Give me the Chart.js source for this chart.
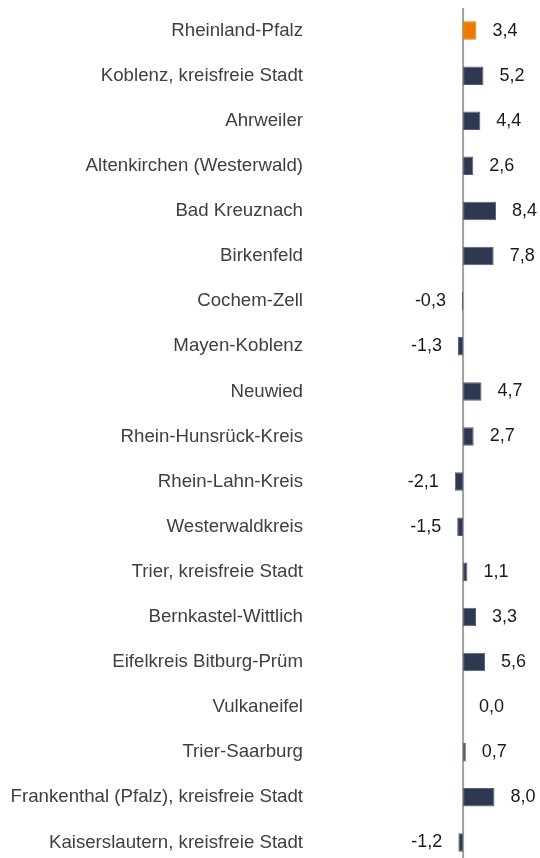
<!DOCTYPE html>
<html>
<head>
<meta charset="utf-8">
<script src="https://cdn.jsdelivr.net/npm/chart.js@4"></script>
<style>
  html, body { margin: 0; padding: 0; background: #fff; overflow: hidden; }
  #box { width: 540px; height: 865px; }
</style>
</head>
<body>
<div id="box"><canvas id="grafico"></canvas></div>
<script>
const kreise = [
  "Rheinland-Pfalz",
  "Koblenz, kreisfreie Stadt",
  "Ahrweiler",
  "Altenkirchen (Westerwald)",
  "Bad Kreuznach",
  "Birkenfeld",
  "Cochem-Zell",
  "Mayen-Koblenz",
  "Neuwied",
  "Rhein-Hunsrück-Kreis",
  "Rhein-Lahn-Kreis",
  "Westerwaldkreis",
  "Trier, kreisfreie Stadt",
  "Bernkastel-Wittlich",
  "Eifelkreis Bitburg-Prüm",
  "Vulkaneifel",
  "Trier-Saarburg",
  "Frankenthal (Pfalz), kreisfreie Stadt",
  "Kaiserslautern, kreisfreie Stadt"
];
const veraenderung = [3.4, 5.2, 4.4, 2.6, 8.4, 7.8, -0.3, -1.3, 4.7, 2.7, -2.1, -1.5, 1.1, 3.3, 5.6, 0.0, 0.7, 8.0, -1.2];

const farbeLand = "#e97b00";
const farbeKreis = "#2e3850";

const fmt = v => v.toFixed(1).replace(".", ",");

// Nulllinie
const nullLinie = {
  id: "nullLinie",
  beforeDatasetsDraw(chart) {
    const ctx = chart.ctx;
    const x = chart.scales.x.getPixelForValue(0);
    ctx.save();
    ctx.strokeStyle = "#a0a0a0";
    ctx.lineWidth = 2;
    ctx.beginPath();
    ctx.moveTo(x, chart.chartArea.top);
    ctx.lineTo(x, chart.height);
    ctx.stroke();
    ctx.restore();
  }
};

// Werte neben die Balken schreiben
const wertePlugin = {
  id: "werte",
  afterDatasetsDraw(chart) {
    const ctx = chart.ctx;
    const meta = chart.getDatasetMeta(0);
    ctx.save();
    ctx.font = "18px 'Liberation Sans', Arial, sans-serif";
    ctx.fillStyle = "#1a1a1a";
    ctx.textBaseline = "middle";
    meta.data.forEach((bar, i) => {
      const v = veraenderung[i];
      if (v < 0) {
        ctx.textAlign = "right";
        ctx.fillText(fmt(v), bar.x - 16, bar.y);
      } else {
        ctx.textAlign = "left";
        ctx.fillText(fmt(v), bar.x + 16, bar.y);
      }
    });
    ctx.restore();
  }
};

new Chart(document.getElementById("grafico"), {
  type: "bar",
  data: {
    labels: kreise,
    datasets: [{
      data: veraenderung,
      backgroundColor: kreise.map((k, i) => i === 0 ? farbeLand : farbeKreis),
      borderColor: kreise.map((k, i) => i === 0 ? farbeLand : "#56607a"),
      borderWidth: 1,
      borderSkipped: false,
      categoryPercentage: 1,
      barPercentage: 0.41
    }]
  },
  options: {
    indexAxis: "y",
    responsive: true,
    maintainAspectRatio: false,
    animation: false,
    layout: { padding: { top: 8, bottom: 0, left: 0, right: 0 } },
    plugins: { legend: { display: false }, tooltip: { enabled: false } },
    scales: {
      x: {
        display: false,
        min: -39,
        max: 19.6
      },
      y: {
        afterFit: s => { s.width = 310; s.paddingTop = 0; s.paddingBottom = 0; },
        border: { display: false },
        grid: { display: false, drawTicks: false },
        ticks: {
          padding: 7,
          color: "#404040",
          font: { family: "'Liberation Sans', Arial, sans-serif", size: 18.67 }
        }
      }
    }
  },
  plugins: [nullLinie, wertePlugin]
});
</script>
</body>
</html>
